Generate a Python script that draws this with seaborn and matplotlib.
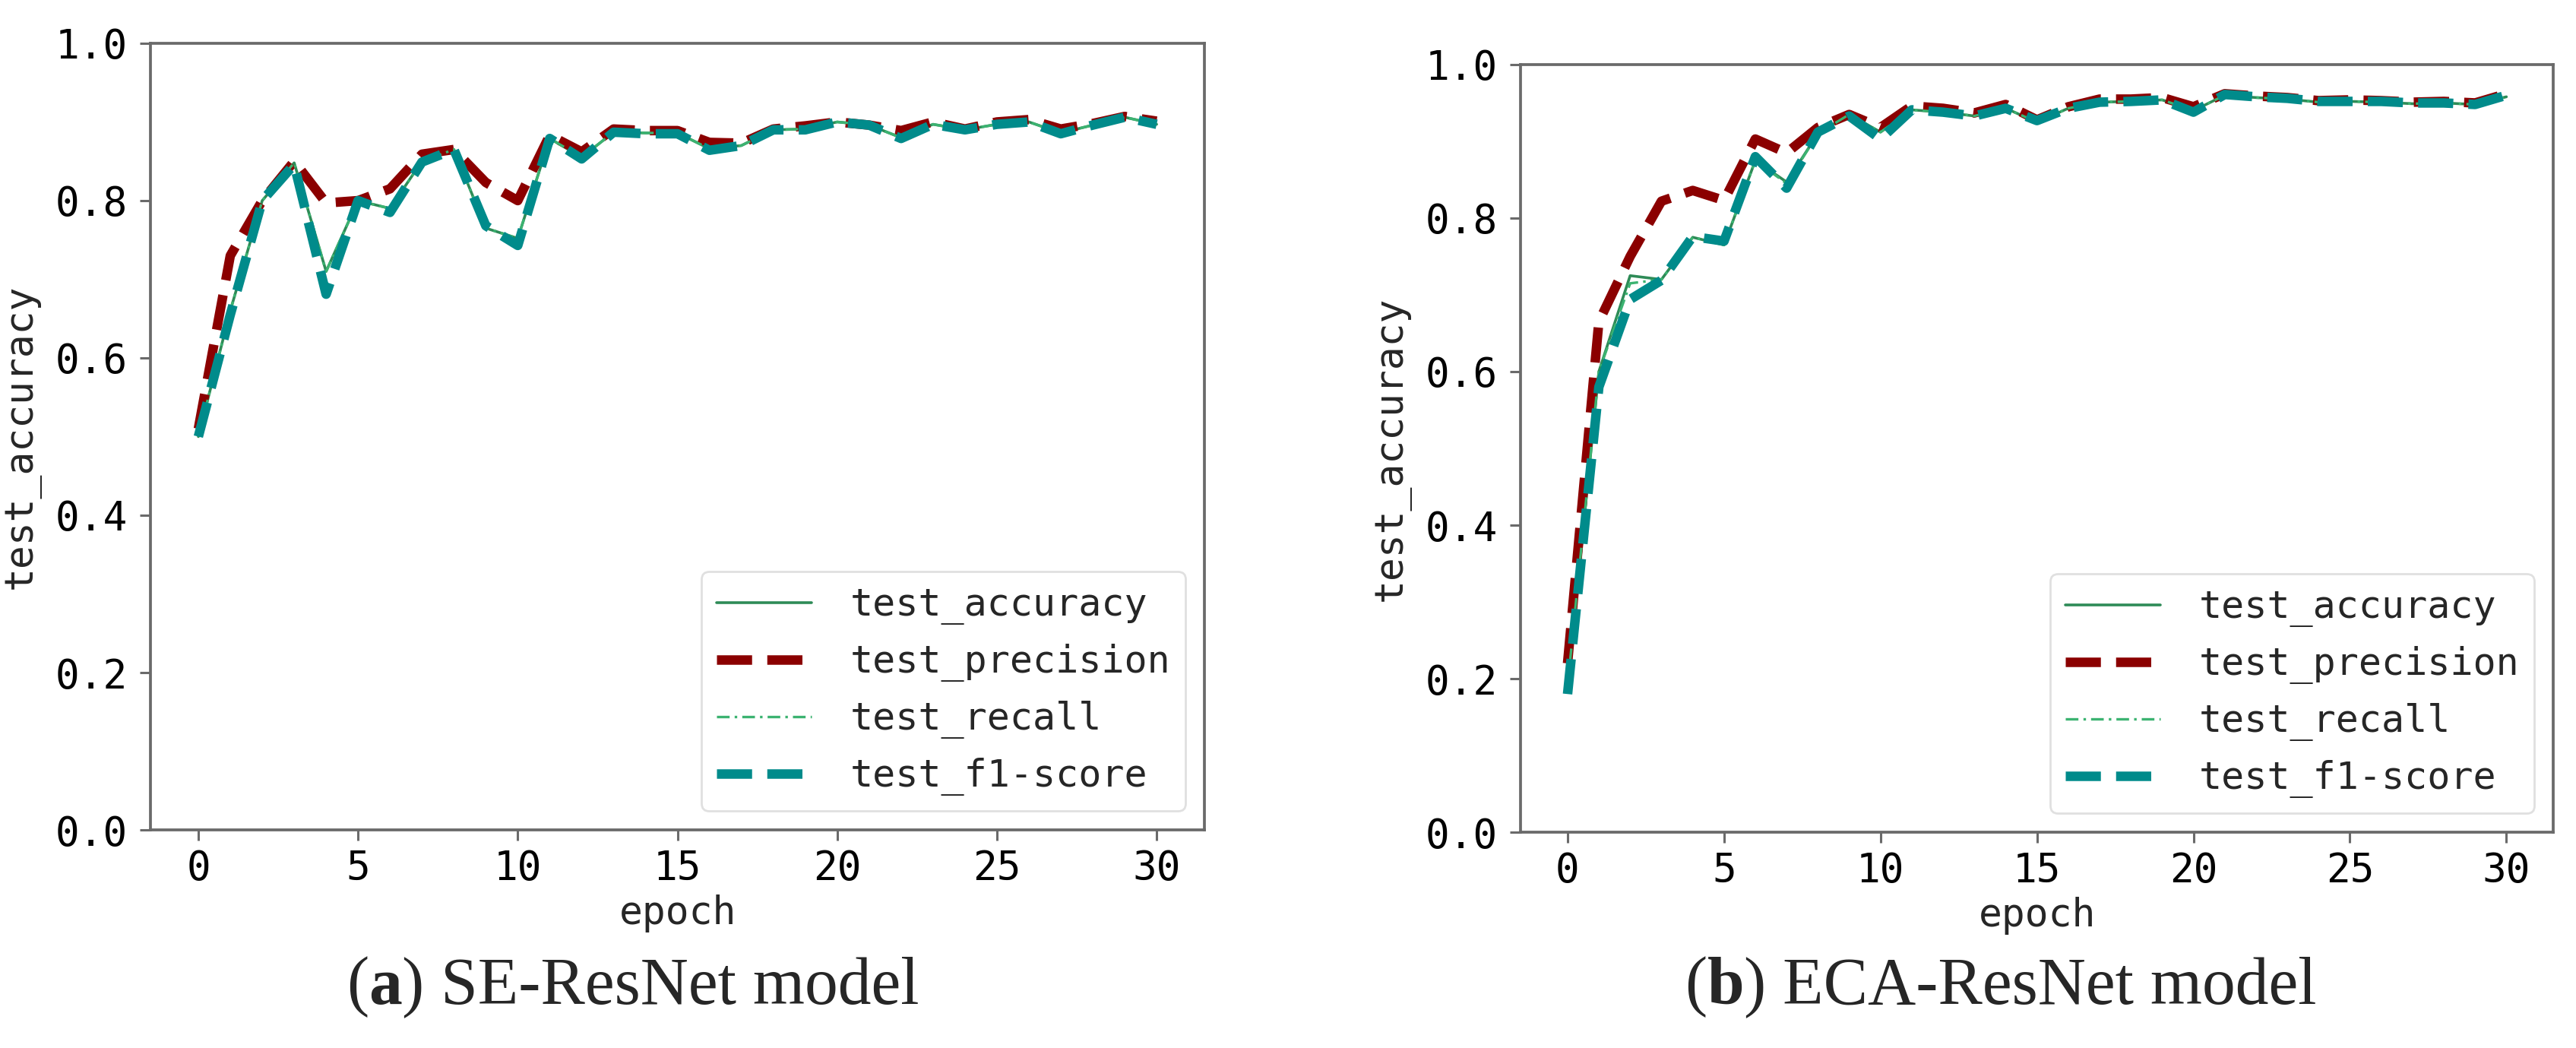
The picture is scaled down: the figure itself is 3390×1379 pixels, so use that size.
import matplotlib
matplotlib.use("Agg")
import matplotlib.pyplot as plt
import seaborn as sns
import pandas as pd
from matplotlib.offsetbox import TextArea, HPacker, AnchoredOffsetbox

# ---------------- data ----------------
epochs = list(range(31))

se_accuracy = [0.50, 0.66, 0.80, 0.848, 0.71, 0.80, 0.79, 0.85, 0.865, 0.765, 0.752,
               0.879, 0.855, 0.887, 0.886, 0.886, 0.866, 0.870, 0.890, 0.891, 0.900,
               0.896, 0.880, 0.897, 0.890, 0.897, 0.900, 0.886, 0.896, 0.906, 0.897]
se_precision = [0.51, 0.73, 0.80, 0.850, 0.797, 0.80, 0.815, 0.859, 0.865, 0.823, 0.80,
                0.883, 0.862, 0.891, 0.889, 0.889, 0.874, 0.873, 0.891, 0.895, 0.900,
                0.896, 0.889, 0.900, 0.891, 0.900, 0.903, 0.891, 0.898, 0.907, 0.901]
se_recall = [0.50, 0.66, 0.80, 0.848, 0.71, 0.80, 0.79, 0.85, 0.865, 0.765, 0.752,
             0.879, 0.855, 0.887, 0.886, 0.886, 0.866, 0.870, 0.890, 0.891, 0.900,
             0.896, 0.880, 0.897, 0.890, 0.897, 0.900, 0.886, 0.896, 0.906, 0.897]
se_f1 = [0.50, 0.655, 0.80, 0.846, 0.681, 0.80, 0.785, 0.849, 0.865, 0.768, 0.743,
         0.879, 0.853, 0.887, 0.885, 0.885, 0.864, 0.870, 0.890, 0.890, 0.900,
         0.896, 0.879, 0.897, 0.890, 0.897, 0.900, 0.885, 0.896, 0.906, 0.897]

eca_accuracy = [0.19, 0.60, 0.725, 0.72, 0.775, 0.765, 0.875, 0.847, 0.91, 0.935, 0.912,
                0.941, 0.938, 0.933, 0.943, 0.925, 0.943, 0.951, 0.952, 0.954, 0.940,
                0.960, 0.957, 0.955, 0.951, 0.952, 0.951, 0.949, 0.950, 0.948, 0.958]
eca_precision = [0.22, 0.665, 0.75, 0.822, 0.836, 0.823, 0.903, 0.885, 0.918, 0.935, 0.918,
                 0.946, 0.943, 0.937, 0.948, 0.928, 0.945, 0.955, 0.955, 0.957, 0.945,
                 0.962, 0.959, 0.957, 0.953, 0.954, 0.953, 0.951, 0.952, 0.950, 0.962]
eca_recall = [0.19, 0.60, 0.715, 0.72, 0.775, 0.765, 0.875, 0.845, 0.91, 0.935, 0.912,
              0.941, 0.938, 0.933, 0.943, 0.925, 0.943, 0.951, 0.952, 0.954, 0.940,
              0.960, 0.957, 0.955, 0.951, 0.952, 0.951, 0.949, 0.950, 0.948, 0.958]
eca_f1 = [0.18, 0.58, 0.694, 0.719, 0.776, 0.77, 0.88, 0.839, 0.912, 0.933, 0.903,
          0.941, 0.938, 0.933, 0.943, 0.927, 0.943, 0.951, 0.952, 0.954, 0.938,
          0.961, 0.958, 0.956, 0.952, 0.952, 0.952, 0.950, 0.950, 0.948, 0.960]

series_names = ["test_accuracy", "test_precision", "test_recall", "test_f1-score"]
x_ticks = [0, 5, 10, 15, 20, 25, 30]
y_ticks = [0.0, 0.2, 0.4, 0.6, 0.8, 1.0]
captions = [("a", " SE-ResNet model"), ("b", " ECA-ResNet model")]

# ---------------- style ----------------
sns.set_theme(style="ticks")
plt.rcParams["font.family"] = ["DejaVu Sans Mono", "DejaVu Sans"]
spine_col = "#6a6a6a"

styles = {
    "test_accuracy": dict(color="#2e8b57", linewidth=2.6, linestyle="-"),
    "test_precision": dict(color="#8b0000", linewidth=9.0, linestyle="--"),
    "test_recall": dict(color="#3cb371", linewidth=2.4, linestyle=(0, (5, 2, 1, 2))),
    "test_f1-score": dict(color="#008b8b", linewidth=9.0, linestyle="--"),
}

fig = plt.figure(figsize=(33.9, 13.79), dpi=100)
ax_a = fig.add_axes([0.0584, 0.2081, 0.4092, 0.7506])
ax_b = fig.add_axes([0.5903, 0.2059, 0.4009, 0.7325])


def draw(ax, acc, prec, rec, f1):
    df = pd.DataFrame({"epoch": epochs, "test_accuracy": acc, "test_precision": prec,
                       "test_recall": rec, "test_f1-score": f1})
    for name in series_names:
        sns.lineplot(data=df, x="epoch", y=name, ax=ax, label=name, **styles[name])
    ax.set_ylim(0.0, 1.0)
    ax.set_xticks(x_ticks)
    ax.set_yticks(y_ticks)
    ax.set_yticklabels([f"{v:.1f}" for v in y_ticks])
    ax.set_xlabel("epoch", fontsize=37, labelpad=6)
    ax.set_ylabel("test_accuracy", fontsize=37, labelpad=14)
    ax.tick_params(axis="both", labelsize=38, length=10, width=2.2,
                   color=spine_col, labelcolor="black")
    ax.tick_params(axis="y", pad=12)
    ax.tick_params(axis="x", pad=8)
    for sp in ax.spines.values():
        sp.set_visible(True)
        sp.set_color(spine_col)
        sp.set_linewidth(2.7)
    leg = ax.legend(loc="lower right", fontsize=36, handlelength=2.5,
                    handletextpad=1.0, frameon=True, fancybox=True,
                    borderaxespad=0.5)
    leg.get_frame().set_edgecolor("0.85")
    leg.get_frame().set_linewidth(2.0)


draw(ax_a, se_accuracy, se_precision, se_recall, se_f1)
draw(ax_b, eca_accuracy, eca_precision, eca_recall, eca_f1)

# captions: "(a) SE-ResNet model" with bold panel letter
serif = ["Liberation Serif", "DejaVu Serif"]
for (letter, rest), cx in zip(captions, [0.2457, 0.7767]):
    parts = [TextArea("(", textprops=dict(fontsize=63, family=serif)),
             TextArea(letter, textprops=dict(fontsize=63, family=serif, fontweight="bold")),
             TextArea(")" + rest, textprops=dict(fontsize=63, family=serif))]
    box = HPacker(children=parts, align="baseline", pad=0, sep=0)
    anchored = AnchoredOffsetbox(loc="center", child=box, frameon=False,
                                 bbox_to_anchor=(cx, 0.058), bbox_transform=fig.transFigure,
                                 pad=0, borderpad=0)
    fig.add_artist(anchored)

fig.savefig("out.png", dpi=100)
